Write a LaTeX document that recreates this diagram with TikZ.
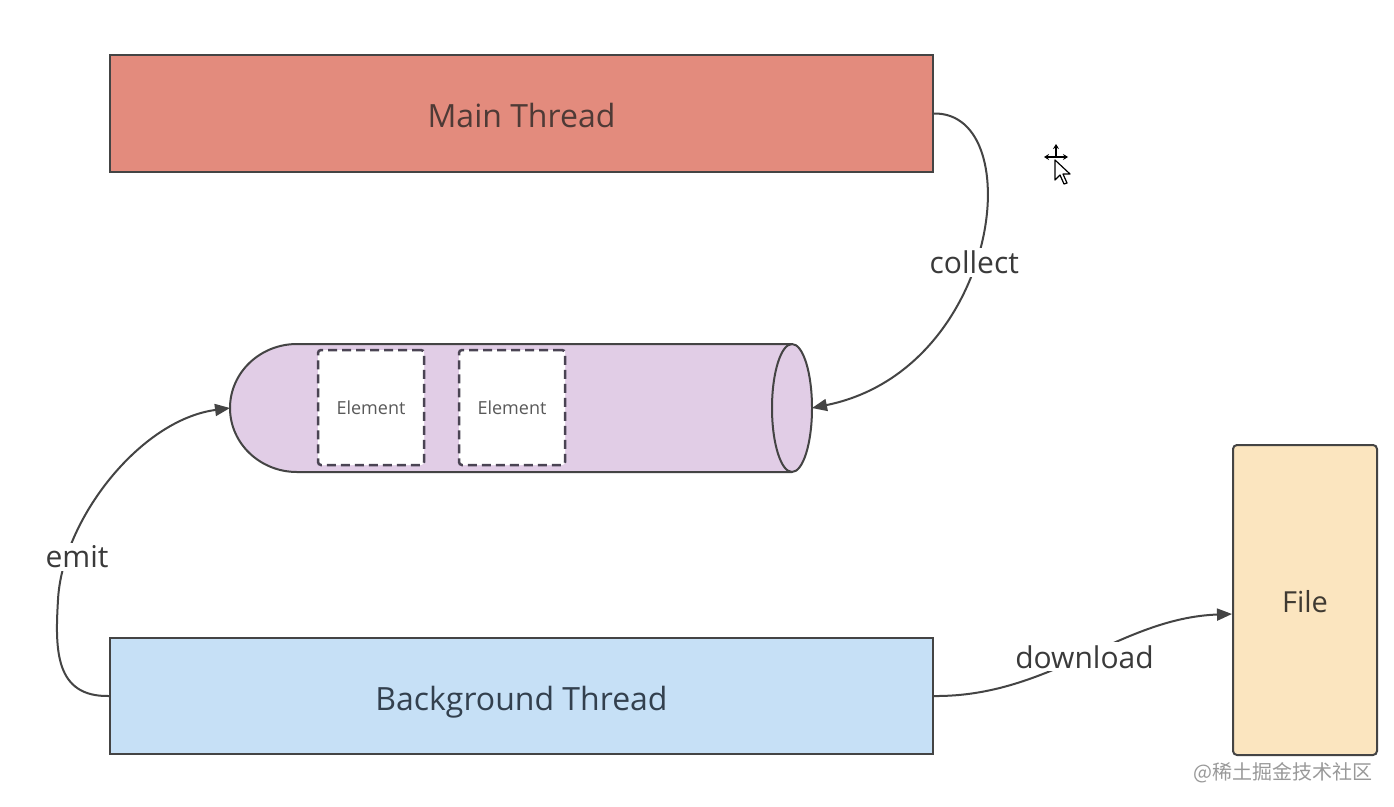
\documentclass[tikz,border=0pt]{standalone}
\usepackage{fontspec}
\setmainfont{Open Sans}
\newfontfamily\cjk{Noto Sans CJK SC}
\usetikzlibrary{arrows.meta}
\definecolor{lineC}{HTML}{444444}
\definecolor{txtC}{HTML}{3A3A3A}
\definecolor{mainT}{HTML}{4E3A36}
\definecolor{bgT}{HTML}{33404E}
\definecolor{fileT}{HTML}{3F3A32}
\definecolor{mainC}{HTML}{E38B7D}
\definecolor{bgC}{HTML}{C6E0F6}
\definecolor{fileC}{HTML}{FBE5BF}
\definecolor{cylC}{HTML}{E1CDE6}
\definecolor{elemC}{HTML}{4A4453}
\tikzset{
  box/.style={draw=lineC, line width=2pt, text=txtC, inner sep=0pt,
              text height=28pt, text depth=0pt,
              font=\fontsize{32}{38}\selectfont},
  elembox/.style={draw=elemC, fill=white, line width=2.5pt, dash pattern=on 9pt off 5pt,
              rounded corners=3pt, minimum width=106pt, minimum height=115pt,
              text=black!65, font=\fontsize{18}{22}\selectfont, inner sep=0pt},
  conn/.style={draw=lineC, line width=2pt, -{Triangle[length=15pt,width=12pt]}},
  lbl/.style={fill=white, text=txtC, font=\fontsize{30}{35}\selectfont, inner sep=3pt},
}
\begin{document}
\begin{tikzpicture}[x=1pt,y=-1pt]
\useasboundingbox[fill=white] (0,0) rectangle (1394,806);
% boxes
\node[box, fill=mainC, text=mainT, minimum width=823pt, minimum height=117pt] (main) at (521.5,113.5) {Main Thread};
\node[box, fill=bgC, text=bgT, minimum width=823pt, minimum height=116pt] (bg) at (521.5,696) {Background Thread};
\node[box, fill=fileC, text=fileT, rounded corners=4pt, minimum width=144pt, minimum height=310pt,
      text height=24pt, font=\fontsize{29}{34}\selectfont] (file) at (1305,600) {File};
% cylinder
\draw[draw=lineC, line width=2pt, fill=cylC]
  (792,344) -- (297,344) arc[start angle=270, end angle=90, x radius=67, y radius=64]
  -- (792,472) arc[start angle=90, end angle=-90, x radius=20, y radius=64] -- cycle;
\draw[draw=lineC, line width=2pt]
  (792,344) arc[start angle=270, end angle=90, x radius=20, y radius=64];
\coordinate (cylL) at (230,408);
\coordinate (cylR) at (812,408);
\node[elembox] (e1) at (371,407.5) {Element};
\node[elembox] (e2) at (512,407.5) {Element};
% connectors
\draw[conn] (main.east) .. controls (1030,112) and (1000,370) .. (cylR)
  node[pos=0.54, lbl] {collect};
\draw[conn] (bg.west) .. controls (55,697) and (55,650) .. (58,600)
  .. controls (62,520) and (140,420) .. (cylL);
\node[lbl] (emitl) at (77,557) {emit};
\draw[conn] (bg.east) .. controls (1050,697) and (1120,618) .. (file.west |- 0,614)
  node[pos=0.5, lbl] {download};
% cursor
\draw[black, line width=1.6pt, -{Stealth[length=5pt,width=6pt]}] (1056,157) -- (1044,157);
\draw[black, line width=1.6pt, -{Stealth[length=5pt,width=6pt]}] (1056,157) -- (1068,157);
\draw[black, line width=1.6pt, -{Stealth[length=5pt,width=6pt]}] (1056,157) -- (1056,144);
\draw[black, line width=1.2pt, fill=white, line join=round]
  (1055,160) -- (1055,180) -- (1060,175) -- (1064,184) -- (1067,183) -- (1063,174) -- (1070,174) -- cycle;
% watermark
\node[text=black!40, font=\cjk\fontsize{20}{24}\selectfont, anchor=east, inner sep=0pt] (wm) at (1373,773) {@稀土掘金技术社区};
\end{tikzpicture}
\end{document}
